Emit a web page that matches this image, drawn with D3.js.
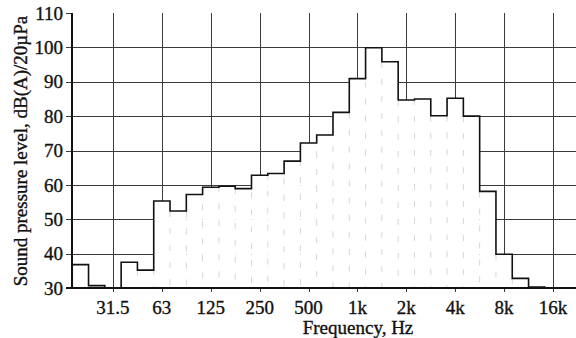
<!DOCTYPE html>
<html>
<head>
<meta charset="utf-8">
<script src="https://cdn.jsdelivr.net/npm/d3@7"></script>
<style>
  body { margin: 0; background: #fff; }
  text { font-family: "Liberation Serif", "Times New Roman", serif; fill: #111; stroke: #111; stroke-width: 0.35px; }
</style>
</head>
<body>
<svg id="main-svg" width="576" height="338"></svg>
<script>
// third-octave bands, nominal centre frequencies (Hz)
var bands = ['20', '25', '31.5', '40', '50', '63', '80', '100', '125', '160', '200', '250', '315', '400',
  '500', '630', '800', '1k', '1.25k', '1.6k', '2k', '2.5k', '3.15k', '4k', '5k', '6.3k', '8k', '10k', '12.5k', '16k']
// band levels, dB(A) re 20 µPa
var levels = [36.8, 30.7, 30, 37.5, 35.2, 55.3, 52.4, 57.2, 59.3, 59.6, 58.9, 62.8, 63.3, 66.9,
  72.2, 74.5, 81.1, 90.9, 99.9, 95.8, 84.7, 85.0, 80.1, 85.2, 80.0, 58.1, 39.8, 32.8, 30.3, 30]
var oneK = 17 // index of the 1 kHz band

// octave ticks
var tickFreqs = [31.25, 62.5, 125, 250, 500, 1000, 2000, 4000, 8000, 16000]
var tickLabels = ['31.5', '63', '125', '250', '500', '1k', '2k', '4k', '8k', '16k']
var yTicks = [30, 40, 50, 60, 70, 80, 90, 100, 110]

var svg = d3.select('#main-svg')
// note: "top" is reserved on window, so use pl/pr/pt/pb
var pl = 72, pr = 576, pt = 13, pb = 288

var x = d3.scaleLog().domain([17.48, 22170]).range([pl, pr])
var y = d3.scaleLinear().domain([30, 110]).range([pb, pt])

// exact band centre and edges from band index
function centre(i) { return 1000 * Math.pow(2, (i - oneK) / 3) }
function lo(i) { return centre(i) / Math.pow(2, 1 / 6) }
function hi(i) { return centre(i) * Math.pow(2, 1 / 6) }

var data = bands.map(function(b, i) { return {band: b, v: levels[i], x0: x(lo(i)), x1: x(hi(i))} })

var grid = svg.append('g').attr('stroke', '#3a3a3a').attr('stroke-width', 1).attr('shape-rendering', 'crispEdges')

// horizontal grid (also ticks on the left)
grid.selectAll('line.h')
  .data(yTicks.filter(function(t) { return t > 30 && t < 110 }))
  .enter().append('line')
  .attr('x1', pl - 6).attr('x2', pr)
  .attr('y1', function(d) { return Math.round(y(d)) + 0.5 })
  .attr('y2', function(d) { return Math.round(y(d)) + 0.5 })
grid.append('line')
  .attr('x1', pl - 6).attr('x2', pl)
  .attr('y1', Math.round(y(110)) + 0.5).attr('y2', Math.round(y(110)) + 0.5)

// vertical grid at octave centres
grid.selectAll('line.v')
  .data(tickFreqs)
  .enter().append('line')
  .attr('x1', function(d) { return Math.round(x(d)) + 0.5 })
  .attr('x2', function(d) { return Math.round(x(d)) + 0.5 })
  .attr('y1', pt).attr('y2', pb + 4)

// white bars hide the grid underneath
svg.append('g').selectAll('rect')
  .data(data)
  .enter().append('rect')
  .attr('x', function(d) { return d.x0 })
  .attr('width', function(d) { return d.x1 - d.x0 })
  .attr('y', function(d) { return y(d.v) })
  .attr('height', function(d) { return pb - y(d.v) })
  .attr('fill', '#fff')

// faint dashed bar edges (left faded in the original)
svg.append('g').selectAll('line')
  .data(data.slice(1).filter(function(d, i) { return Math.min(d.v, data[i].v) > 31 }))
  .enter().append('line')
  .attr('x1', function(d) { return d.x0 }).attr('x2', function(d) { return d.x0 })
  .attr('y1', function(d) { return y(d.v) }).attr('y2', pb)
  .attr('stroke', '#d6d6d6').attr('stroke-width', 1).attr('stroke-dasharray', '6,11')

// step outline
var pts = [[data[0].x0, 30]]
data.forEach(function(d) { pts.push([d.x0, d.v]); pts.push([d.x1, d.v]) })
pts.push([data[data.length - 1].x1, 30])
var line = d3.line().x(function(p) { return p[0] }).y(function(p) { return y(p[1]) })
svg.append('path')
  .attr('d', line(pts))
  .attr('fill', 'none').attr('stroke', '#111').attr('stroke-width', 1.6)

// axes lines
var axes = svg.append('g').attr('stroke', '#111').attr('stroke-width', 1.3).attr('shape-rendering', 'crispEdges')
axes.append('line').attr('x1', pl - 6).attr('x2', pr).attr('y1', pb).attr('y2', pb)
axes.append('line').attr('x1', pl).attr('x2', pl).attr('y1', pt).attr('y2', pb)

// tick labels
svg.append('g').selectAll('text')
  .data(yTicks)
  .enter().append('text')
  .attr('x', 63).attr('y', function(d) { return y(d) })
  .attr('dy', '0.35em').attr('text-anchor', 'end')
  .style('font-size', '19px')
  .text(function(d) { return d })

svg.append('g').selectAll('text')
  .data(tickFreqs)
  .enter().append('text')
  .attr('x', function(d) { return x(d) }).attr('y', 314)
  .attr('text-anchor', 'middle')
  .style('font-size', '19px')
  .text(function(d, i) { return tickLabels[i] })

// axis titles
svg.append('text')
  .attr('x', 358).attr('y', 334)
  .attr('text-anchor', 'middle')
  .style('font-size', '19px')
  .text('Frequency, Hz')

svg.append('text')
  .attr('transform', 'translate(27,151) rotate(-90)')
  .attr('text-anchor', 'middle')
  .style('font-size', '19px')
  .text('Sound pressure level, dB(A)/20µPa')
</script>
</body>
</html>
